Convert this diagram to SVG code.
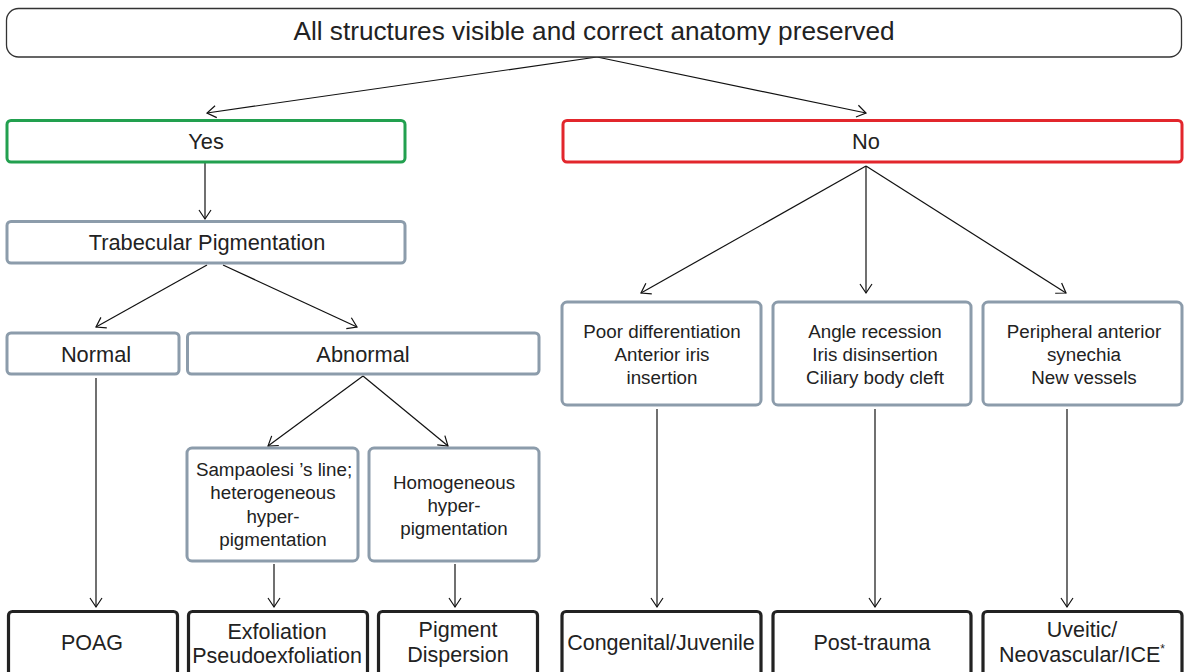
<svg xmlns="http://www.w3.org/2000/svg" width="1188" height="672" viewBox="0 0 1188 672">
<style>
text{font-family:"Liberation Sans",Arial,sans-serif;fill:#222;text-anchor:middle}
.t{font-size:26.2px}
.l{font-size:21.8px}
.m{font-size:18.8px}
.b{font-size:21.5px}
.top{fill:#fff;stroke:#333;stroke-width:1.3}
.yes{fill:#fff;stroke:#22a04f;stroke-width:3}
.no{fill:#fff;stroke:#e2262c;stroke-width:3}
.g{fill:#fff;stroke:#8c9cab;stroke-width:3}
.k{fill:#fff;stroke:#222;stroke-width:3.2}
.c line{stroke:#111;stroke-width:1.2;marker-end:url(#ah)}
</style>
<defs>
<marker id="ah" markerUnits="userSpaceOnUse" markerWidth="12" markerHeight="14" refX="9" refY="6" orient="auto" overflow="visible">
<path d="M0,0 L9,6 L0,12" fill="none" stroke="#111" stroke-width="1.2"/>
</marker>
</defs>
<rect width="1188" height="672" fill="#fff"/>
<g class="c" id="connectors">
<line x1="597" y1="57" x2="207" y2="113"/>
<line x1="597" y1="57" x2="866" y2="113"/>
<line x1="205" y1="163" x2="205" y2="219"/>
<line x1="207" y1="265" x2="96" y2="327"/>
<line x1="223" y1="265" x2="357" y2="327"/>
<line x1="96" y1="378" x2="96" y2="607"/>
<line x1="363" y1="376" x2="268" y2="446"/>
<line x1="363" y1="376" x2="448" y2="446"/>
<line x1="274" y1="564" x2="274" y2="607"/>
<line x1="455" y1="564" x2="455" y2="607"/>
<line x1="866" y1="166" x2="641" y2="293"/>
<line x1="866" y1="166" x2="866" y2="293"/>
<line x1="866" y1="166" x2="1066" y2="293"/>
<line x1="657" y1="409" x2="657" y2="607"/>
<line x1="875" y1="409" x2="875" y2="607"/>
<line x1="1067" y1="409" x2="1067" y2="607"/>
</g>
<g id="root"><rect class="top" x="6.5" y="8.5" width="1175" height="48.5" rx="12"/><text class="t" x="594" y="40">All structures visible and correct anatomy preserved</text></g>
<g id="yes"><rect class="yes" x="7" y="120.5" width="398" height="41.5" rx="4"/><text class="l" x="206" y="149">Yes</text></g>
<g id="no"><rect class="no" x="563" y="120.5" width="619" height="41.5" rx="4"/><text class="l" x="866" y="149">No</text></g>
<g id="trab"><rect class="g" x="7" y="221.5" width="398" height="41.5" rx="4"/><text class="l" x="207" y="250">Trabecular Pigmentation</text></g>
<g id="normal"><rect class="g" x="7" y="333" width="172" height="41" rx="4"/><text class="l" x="96" y="362">Normal</text></g>
<g id="abnormal"><rect class="g" x="187.5" y="333" width="351.5" height="41" rx="4"/><text class="l" x="363" y="362">Abnormal</text></g>
<g id="sampaolesi"><rect class="g" x="187" y="448" width="171" height="113" rx="5"/>
<text class="m" x="274" y="476">Sampaolesi ’s line;</text>
<text class="m" x="273" y="499">heterogeneous</text>
<text class="m" x="273" y="523">hyper-</text>
<text class="m" x="273" y="546">pigmentation</text></g>
<g id="homog"><rect class="g" x="369" y="448" width="170" height="113" rx="5"/>
<text class="m" x="454" y="489">Homogeneous</text>
<text class="m" x="454" y="512">hyper-</text>
<text class="m" x="454" y="535">pigmentation</text></g>
<g id="poor"><rect class="g" x="562" y="302" width="199" height="103" rx="5"/>
<text class="m" x="662" y="338">Poor differentiation</text>
<text class="m" x="662" y="361">Anterior iris</text>
<text class="m" x="662" y="384">insertion</text></g>
<g id="angle"><rect class="g" x="773" y="302" width="198" height="103" rx="5"/>
<text class="m" x="875" y="338">Angle recession</text>
<text class="m" x="875" y="361">Iris disinsertion</text>
<text class="m" x="875" y="384">Ciliary body cleft</text></g>
<g id="pas"><rect class="g" x="983" y="302" width="199" height="103" rx="5"/>
<text class="m" x="1084" y="338">Peripheral anterior</text>
<text class="m" x="1084" y="361">synechia</text>
<text class="m" x="1084" y="384">New vessels</text></g>
<g id="poag"><rect class="k" x="8.5" y="611.5" width="169" height="80" rx="4"/><text class="b" x="92" y="650">POAG</text></g>
<g id="exfol"><rect class="k" x="188.5" y="611.5" width="179" height="80" rx="4"/>
<text class="b" x="277" y="639">Exfoliation</text>
<text class="b" x="277" y="663">Pseudoexfoliation</text></g>
<g id="pigdisp"><rect class="k" x="378.5" y="611.5" width="159" height="80" rx="4"/>
<text class="b" x="458" y="637">Pigment</text>
<text class="b" x="458" y="662">Dispersion</text></g>
<g id="congenital"><rect class="k" x="562" y="611.5" width="199" height="80" rx="4"/><text class="b" x="661" y="650">Congenital/Juvenile</text></g>
<g id="trauma"><rect class="k" x="773" y="611.5" width="198" height="80" rx="4"/><text class="b" x="872" y="650">Post-trauma</text></g>
<g id="uveitic"><rect class="k" x="983" y="611.5" width="199" height="80" rx="4"/>
<text class="b" x="1082" y="637">Uveitic/</text>
<text class="b" x="1082" y="662">Neovascular/ICE<tspan font-size="12" dy="-9">*</tspan></text></g>
</svg>
